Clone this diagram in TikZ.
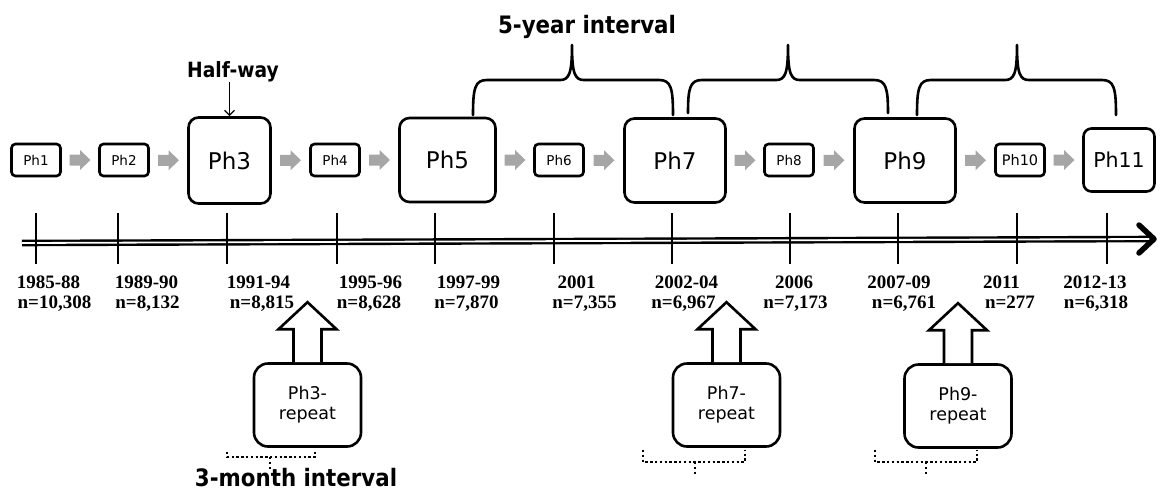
\documentclass[tikz,border=0pt]{standalone}
\usepackage{fontspec}
\usepackage{graphicx}
\setmainfont{DejaVu Sans}
\newfontfamily\datefont{Liberation Serif}
\usetikzlibrary{calc,arrows.meta}
\definecolor{arrowgray}{HTML}{A6A6A6}

\tikzset{
  phase/.style={draw, line width=2.6pt, rounded corners=#1, inner sep=0pt, fill=white},
  smallbox/.style={phase=4pt, minimum width=49pt, minimum height=32pt,
    font=\fontsize{13.5}{15}\selectfont},
  bigbox/.style={phase=10pt, minimum height=84pt, font=\fontsize{23}{26}\selectfont},
  repeatbox/.style={phase=14pt, minimum width=107pt, minimum height=83pt, align=center,
    font=\fontsize{17.5}{20}\selectfont},
  yearlabel/.style={font=\datefont\bfseries\fontsize{19}{20}\selectfont, inner sep=0pt, anchor=base},
  titletext/.style={font=\bfseries\fontsize{24}{26}\selectfont, inner sep=0pt, anchor=base},
  braceline/.style={line width=2.6pt, line cap=round, line join=round},
  dotbrace/.style={line width=2.6pt, dash pattern=on 2.4pt off 2.4pt},
  blockarrow/.style={line width=2.6pt, fill=white, line join=miter},
  flowarrow/.pic={\fill[arrowgray] (-10.5,-5.5) -- (0,-5.5) -- (0,-10) -- (10.5,0)
    -- (0,10) -- (0,5.5) -- (-10.5,5.5) -- cycle;}
}

\begin{document}
\begin{tikzpicture}[x=1pt,y=-1pt]
\useasboundingbox (0,0) rectangle (1160,491);

% phases of data collection
\node[smallbox] (p1) at (36,160) {Ph1};
\node[smallbox] (p2) at (124,160) {Ph2};
\node[bigbox, minimum width=82pt, minimum height=86pt] (p3) at (229.5,160.5) {Ph3};
\node[smallbox] (p4) at (335,160) {Ph4};
\node[bigbox, minimum width=96pt] (p5) at (447.5,160) {Ph5};
\node[smallbox] (p6) at (559,160) {Ph6};
\node[bigbox, minimum width=101pt] (p7) at (675,160.5) {Ph7};
\node[smallbox] (p8) at (789,160) {Ph8};
\node[bigbox, minimum width=101pt] (p9) at (905,160.5) {Ph9};
\node[smallbox, font=\fontsize{14.5}{16}\selectfont] (p10) at (1020,160) {Ph10};
\node[phase=8pt, minimum width=71pt, minimum height=63pt,
      font=\fontsize{20.5}{24}\selectfont] (p11) at (1119,160) {Ph11};

% grey flow arrows between consecutive phases
\foreach \a/\b in {p1/p2,p2/p3,p3/p4,p4/p5,p5/p6,p6/p7,p7/p8,p8/p9,p9/p10,p10/p11}
  \pic at ($(\a.east)!0.5!(\b.west)$) {flowarrow};

% half-way marker
\node[titletext, font=\bfseries\fontsize{21}{24}\selectfont] (hw) at (233,77)
  {\scalebox{0.89}[1]{Half-way}};
\draw[line width=1.3pt, -{Straight Barb[length=5pt,width=10pt]}]
  (hw.south -| p3.north) -- (p3.north);

% 5-year interval braces
\node[titletext] (five) at (587,33) {\scalebox{0.89}[1]{5-year interval}};
\foreach \l/\r/\m/\e in {473/673/572/115, 688/888/788/113, 917/1116/1017/115}
  \draw[braceline]
    (\l,\e) .. controls (\l,88) and (\l+2,80) .. (\l+14,80) -- (\m-12,80)
    .. controls (\m-3,80) and (\m,74) .. (\m,45)
    .. controls (\m,74) and (\m+3,80) .. (\m+12,80) -- (\r-14,80)
    .. controls (\r-2,80) and (\r,88) .. (\r,\e);

% time axis
\coordinate (axisstart) at (22,243);
\coordinate (axisend) at (1151,239);
\draw[double, double distance=1.8pt, line width=2.4pt] (axisstart) -- (axisend);
\draw[line width=5.5pt, line cap=round, line join=round]
  ($(axisend)+(-12,-14)$) -- ($(axisend)+(3,0)$) -- ($(axisend)+(-12,14)$);
\foreach \x in {36,118,227,337,435,554,672,790,898,1017,1107}
  \draw[line width=1.1pt] (\x,213) -- (\x,264);

% years and sample sizes
\foreach \x/\t [count=\i] in {48.5/1985-88, 146.5/1989-90, 258.5/1991-94, 370.5/1995-96,
    468.5/1997-99, 576.5/2001, 686.5/2002-04, 794/2006, 899/2007-09, 1001.5/2011, 1095/2012-13}
  \node[yearlabel] (year\i) at (\x,288) {\t};
\foreach \x/\t [count=\i] in {54.5/{n=10,308}, 147.5/{n=8,132}, 262/{n=8,815}, 369/{n=8,628},
    466.5/{n=7,870}, 584.5/{n=7,355}, 683.5/{n=6,967}, 795.5/{n=7,173}, 904/{n=6,761},
    1010/{n=277}, 1096/{n=6,318}}
  \node[yearlabel] (count\i) at (\x,308) {\t};

% repeat sub-studies
\node[repeatbox] (r3) at (307.5,405) {Ph3-\\repeat};
\node[repeatbox] (r7) at (726.5,405) {Ph7-\\repeat};
\node[repeatbox] (r9) at (958,406) {Ph9-\\repeat};
\foreach \r in {r3,r7,r9}
  \draw[blockarrow]
    ($(\r.north)+(-14,0)$) -- ($(\r.north)+(-14,-33)$) -- ($(\r.north)+(-29,-33)$)
    -- ($(\r.north)+(0,-60)$) -- ($(\r.north)+(29,-33)$) -- ($(\r.north)+(14,-33)$)
    -- ($(\r.north)+(14,0)$);

% 3-month interval brackets
\foreach \l/\r/\m/\t/\h/\b in {227/315/270/452/457/469, 643/745/695/450/462/475,
    875/977/926/450/462/475}
  \draw[dotbrace] (\l,\t) -- (\l,\h) -- (\r,\h) -- (\r,\t) (\m,\h) -- (\m,\b);
\node[titletext] (three) at (296,486) {\scalebox{0.89}[1]{3-month interval}};

\end{tikzpicture}
\end{document}
